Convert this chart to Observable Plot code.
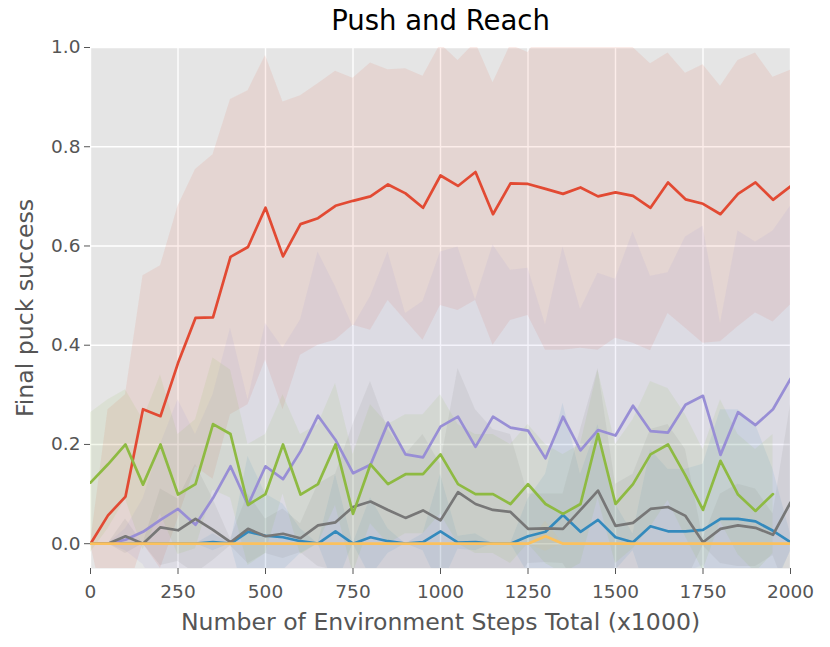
<!DOCTYPE html>
<html>
<head>
<meta charset="utf-8">
<script src="https://cdn.jsdelivr.net/npm/d3@7"></script>
<script src="https://cdn.jsdelivr.net/npm/@observablehq/plot@0.6"></script>
<style>
  html, body { margin: 0; padding: 0; background: #ffffff; }
  #chart { width: 830px; height: 647px; }
</style>
</head>
<body>
<div id="chart"></div>
<script>
const steps = [0,50,100,150,200,250,300,350,400,450,500,550,600,650,700,750,800,850,900,950,1000,1050,1100,1150,1200,1250,1300,1350,1400,1450,1500,1550,1600,1650,1700,1750,1800,1850,1900,1950,2000];
const xTicks = [0,250,500,750,1000,1250,1500,1750,2000];
const yTicks = [0,0.2,0.4,0.6,0.8,1.0];

const redMean = [0.0,0.057,0.095,0.271,0.257,0.364,0.455,0.456,0.578,0.598,0.677,0.579,0.644,0.656,0.681,0.691,0.700,0.724,0.706,0.677,0.742,0.721,0.749,0.664,0.726,0.725,0.715,0.705,0.718,0.700,0.708,0.701,0.677,0.728,0.694,0.685,0.664,0.705,0.728,0.693,0.720];
const redHi = [0.0,0.27,0.30,0.54,0.56,0.68,0.754,0.784,0.895,0.913,0.984,0.89,0.903,0.927,0.952,0.938,0.969,0.955,0.957,0.942,1.007,0.974,1.01,0.929,1.005,0.99,1.04,1.02,1.045,1.01,1.0,1.0,0.967,0.989,0.948,0.965,0.922,0.974,0.989,0.94,0.954];
const redLo = [0.0,-0.16,-0.11,0.0,-0.05,0.05,0.155,0.13,0.26,0.28,0.37,0.27,0.38,0.40,0.41,0.44,0.43,0.49,0.45,0.41,0.48,0.47,0.49,0.40,0.45,0.46,0.39,0.39,0.394,0.39,0.414,0.404,0.389,0.464,0.434,0.404,0.407,0.437,0.465,0.447,0.481];

const blueMean = [0,0,0,0,0,0,0,0.003,0.0,0.024,0.016,0.013,0.005,0.0,0.025,0.0,0.013,0.005,0.0,0.003,0.025,0.002,0.003,0.0,0.0,0.015,0.024,0.058,0.024,0.048,0.013,0.003,0.035,0.025,0.025,0.028,0.05,0.05,0.045,0.026,0.003];
const blueHi = [0,0,0,0,0,0,0,0.02,0.0,0.176,0.1,0.08,0.03,0.0,0.14,0.0,0.093,0.03,0.0,0.02,0.14,0.015,0.02,0.0,0.0,0.09,0.14,0.283,0.14,0.24,0.08,0.02,0.19,0.15,0.15,0.16,0.27,0.27,0.24,0.15,0.02];
const blueLo = [0,0,0,0,0,0,0,-0.014,0.0,-0.128,-0.068,-0.054,-0.02,0.0,-0.09,0.0,-0.067,-0.02,0.0,-0.014,-0.09,-0.011,-0.014,0.0,0.0,-0.06,-0.092,-0.167,-0.092,-0.144,-0.054,-0.014,-0.12,-0.1,-0.1,-0.104,-0.17,-0.17,-0.15,-0.098,-0.014];

const purpleMean = [0.0,0.0,0.008,0.024,0.048,0.07,0.038,0.092,0.156,0.078,0.156,0.13,0.186,0.258,0.209,0.142,0.159,0.244,0.18,0.174,0.236,0.256,0.195,0.256,0.234,0.228,0.172,0.256,0.188,0.229,0.218,0.278,0.227,0.224,0.28,0.298,0.179,0.265,0.239,0.271,0.332];
const purpleHi = [0.0,0.0,0.03,0.09,0.2,0.29,0.22,0.3,0.434,0.29,0.444,0.394,0.451,0.588,0.518,0.437,0.498,0.588,0.464,0.488,0.588,0.598,0.491,0.602,0.551,0.555,0.441,0.598,0.472,0.545,0.533,0.628,0.539,0.546,0.618,0.64,0.444,0.63,0.608,0.63,0.68];
const purpleLo = [0.0,0.0,-0.014,-0.042,-0.104,-0.15,-0.144,-0.116,-0.122,-0.134,-0.132,-0.134,-0.079,-0.072,-0.1,-0.153,-0.18,-0.1,-0.104,-0.14,-0.116,-0.086,-0.101,-0.09,-0.083,-0.099,-0.097,-0.086,-0.096,-0.087,-0.097,-0.072,-0.085,-0.098,-0.058,-0.044,-0.086,-0.1,-0.13,-0.088,-0.016];

const grayMean = [0,0,0.015,0,0.033,0.027,0.05,0.028,0.003,0.03,0.015,0.02,0.011,0.037,0.043,0.074,0.085,0.068,0.052,0.067,0.047,0.104,0.08,0.068,0.064,0.03,0.031,0.03,0.068,0.107,0.036,0.042,0.07,0.074,0.056,0.003,0.03,0.037,0.032,0.018,0.083];
const grayHi = [0,0,0.05,0,0.11,0.09,0.16,0.09,0.01,0.1,0.05,0.07,0.04,0.12,0.14,0.24,0.327,0.23,0.18,0.22,0.16,0.353,0.27,0.23,0.22,0.1,0.1,0.1,0.23,0.353,0.12,0.14,0.23,0.24,0.19,0.01,0.1,0.12,0.11,0.06,0.28];
const grayLo = [0,0,-0.02,0,-0.044,-0.036,-0.06,-0.034,-0.004,-0.04,-0.02,-0.03,-0.018,-0.046,-0.054,-0.092,-0.157,-0.094,-0.076,-0.086,-0.066,-0.145,-0.11,-0.094,-0.092,-0.04,-0.038,-0.04,-0.094,-0.139,-0.048,-0.056,-0.09,-0.092,-0.078,-0.004,-0.04,-0.046,-0.046,-0.024,-0.114];

const yellowMean = [0,0,0,0,0,0,0,0,0,0,0,0,0,0,0,0,0,0,0,0,0,0,0,0,0,0,0.015,0,0,0,0,0,0,0,0,0,0,0,0,0,0];
const yellowHi = [0,0,0,0,0,0,0,0,0,0,0,0,0,0,0,0,0,0,0,0,0,0,0,0,0,0,0.045,0,0,0,0,0,0,0,0,0,0,0,0,0,0];
const yellowLo = [0,0,0,0,0,0,0,0,0,0,0,0,0,0,0,0,0,0,0,0,0,0,0,0,0,0,-0.015,0,0,0,0,0,0,0,0,0,0,0,0,0,0];

const greenMean = [0.123,0.16,0.2,0.119,0.2,0.099,0.12,0.241,0.221,0.078,0.1,0.2,0.099,0.12,0.2,0.06,0.16,0.12,0.14,0.14,0.18,0.12,0.1,0.1,0.08,0.12,0.08,0.06,0.08,0.221,0.08,0.12,0.18,0.2,0.137,0.068,0.167,0.099,0.066,0.1];
const greenHi = [0.264,0.29,0.31,0.25,0.34,0.22,0.25,0.374,0.35,0.2,0.22,0.3,0.22,0.24,0.323,0.18,0.28,0.24,0.26,0.26,0.3,0.24,0.22,0.22,0.2,0.24,0.2,0.18,0.2,0.35,0.2,0.25,0.327,0.313,0.26,0.19,0.29,0.22,0.19,0.22];
const greenLo = [-0.018,0.03,0.09,-0.012,0.06,-0.022,-0.01,0.108,0.092,-0.044,-0.02,0.1,-0.022,0.0,0.077,-0.06,0.04,0.0,0.02,0.02,0.06,0.0,-0.02,-0.02,-0.04,0.0,-0.04,-0.06,-0.04,0.092,-0.04,-0.01,0.033,0.087,0.014,-0.054,0.044,-0.022,-0.058,-0.02];

const series = [
  {color: "#E24A33", mean: redMean, hi: redHi, lo: redLo},
  {color: "#348ABD", mean: blueMean, hi: blueHi, lo: blueLo},
  {color: "#988ED5", mean: purpleMean, hi: purpleHi, lo: purpleLo},
  {color: "#777777", mean: grayMean, hi: grayHi, lo: grayLo},
  {color: "#FBC15E", mean: yellowMean, hi: yellowHi, lo: yellowLo},
  {color: "#8EBA42", mean: greenMean, hi: greenHi, lo: greenLo}
];

const tables = series.map(s => ({
  color: s.color,
  rows: s.mean.map((v, i) => ({step: steps[i], y: v, lo: s.lo[i], hi: s.hi[i]}))
}));

const marks = [
  Plot.frame({fill: "#E5E5E5", stroke: "none"}),
  Plot.gridX(xTicks, {stroke: "#ffffff", strokeOpacity: 1, strokeWidth: 1.4}),
  Plot.gridY(yTicks, {stroke: "#ffffff", strokeOpacity: 1, strokeWidth: 1.4})
];
for (const t of tables) {
  marks.push(Plot.areaY(t.rows, {x: "step", y1: "lo", y2: "hi", fill: t.color, fillOpacity: 0.1, clip: true}));
}
for (const t of tables) {
  marks.push(Plot.lineY(t.rows, {x: "step", y: "y", stroke: t.color, strokeWidth: 2.7, clip: true}));
}
marks.push(
  Plot.axisX({ticks: xTicks, tickSize: 6, tickPadding: 10, fontSize: 18.5, color: "#555555", label: null, tickFormat: d => String(d)}),
  Plot.axisY({ticks: yTicks, tickSize: 6, tickPadding: 4, fontSize: 18.5, color: "#555555", label: null, tickFormat: d => d.toFixed(1)}),
  Plot.text(["Push and Reach"], {text: d => d, frameAnchor: "top", dy: -37, fontSize: 27.5, fill: "#000000"}),
  Plot.text(["Number of Environment Steps Total (x1000)"], {text: d => d, frameAnchor: "bottom", dy: 61, fontSize: 23.6, fill: "#555555"}),
  Plot.text(["Final puck success"], {text: d => d, frameAnchor: "left", textAnchor: "middle", dx: -65, rotate: -90, fontSize: 23.6, fill: "#555555"})
);

const chart = Plot.plot({
  width: 830,
  height: 647,
  marginLeft: 90,
  marginRight: 40,
  marginTop: 47,
  marginBottom: 79,
  style: {fontFamily: "DejaVu Sans", background: "#ffffff", overflow: "visible"},
  x: {domain: [0, 2000], label: null},
  y: {domain: [-0.05, 1.0], label: null},
  marks
});
document.getElementById("chart").appendChild(chart);
</script>
</body>
</html>
